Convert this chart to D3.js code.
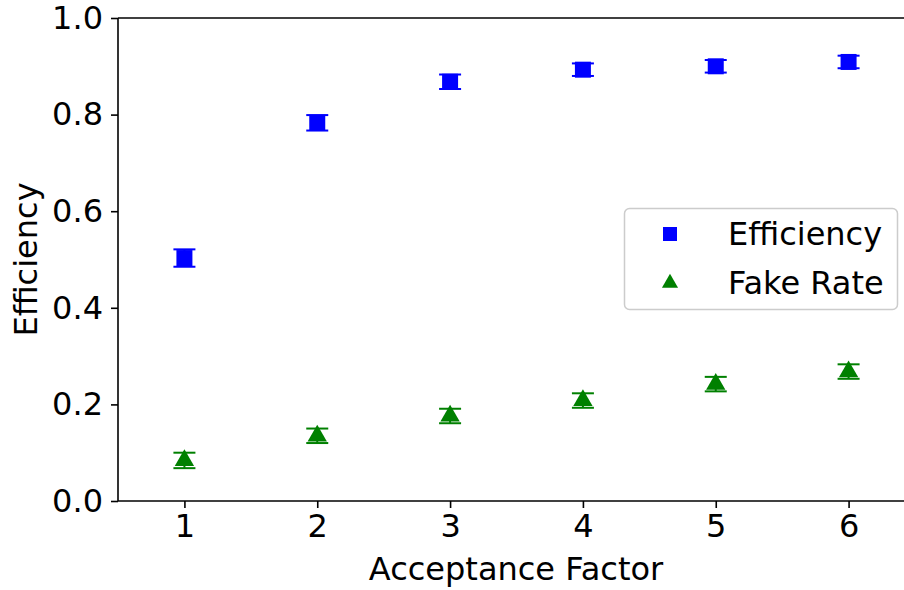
<!DOCTYPE html>
<html lang="en">
<head>
<meta charset="UTF-8">
<title>Efficiency vs Acceptance Factor</title>
<script src="https://d3js.org/d3.v7.min.js"></script>
<style>
  body { margin: 0; background: #fff; }
  svg { display: block; font-family: "DejaVu Sans", sans-serif; }
</style>
</head>
<body>
<svg id="chart" width="904" height="590"></svg>
<script>
// data
const factors = [1, 2, 3, 4, 5, 6];
const efficiency = [0.503, 0.783, 0.868, 0.893, 0.900, 0.909];
const efficiencyErr = [0.018, 0.016, 0.015, 0.013, 0.013, 0.013];
const fakeRate = [0.084, 0.135, 0.176, 0.208, 0.242, 0.268];
const fakeRateErr = [0.016, 0.015, 0.015, 0.015, 0.015, 0.015];
const yTicks = [0, 0.2, 0.4, 0.6, 0.8, 1.0];

const svg = d3.select('#chart');
const m = { left: 118, right: 915, top: 18, bottom: 501 };

const x = d3.scaleLinear().domain([0.5, 6.5]).range([m.left, m.right]);
const y = d3.scaleLinear().domain([0, 1]).range([m.bottom, m.top]);

const FONT = 32;

// axes
const xAxis = svg.append('g')
  .attr('transform', `translate(0,${m.bottom})`)
  .call(d3.axisBottom(x).tickValues(factors).tickFormat(d3.format('d')).tickSize(7).tickPadding(6));
const yAxis = svg.append('g')
  .attr('transform', `translate(${m.left},0)`)
  .call(d3.axisLeft(y).tickValues(yTicks).tickFormat(d3.format('.1f')).tickSize(7).tickPadding(8));

[xAxis, yAxis].forEach(a => {
  a.selectAll('.domain').remove();
  a.selectAll('.tick line').attr('stroke', '#000').attr('stroke-width', 1.6);
  a.selectAll('.tick text').attr('font-size', FONT).attr('fill', '#000')
    .attr('font-family', '"DejaVu Sans", sans-serif');
});

// spines
const spine = svg.append('g').attr('stroke', '#000').attr('stroke-width', 1.6).attr('fill', 'none');
spine.append('line').attr('x1', m.left).attr('x2', m.left).attr('y1', m.top).attr('y2', m.bottom);
spine.append('line').attr('x1', m.left).attr('x2', m.right).attr('y1', m.bottom).attr('y2', m.bottom);
spine.append('line').attr('x1', m.left).attr('x2', m.right).attr('y1', m.top).attr('y2', m.top);
spine.append('line').attr('x1', m.right).attr('x2', m.right).attr('y1', m.top).attr('y2', m.bottom);

// axis labels
svg.append('text')
  .attr('x', 516)
  .attr('y', 580)
  .attr('text-anchor', 'middle')
  .attr('font-size', FONT)
  .text('Acceptance Factor');
svg.append('text')
  .attr('transform', `translate(37,${(m.top + m.bottom) / 2}) rotate(-90)`)
  .attr('text-anchor', 'middle')
  .attr('font-size', FONT)
  .text('Efficiency');

const CAP = 11;
const sq = d3.symbol().type(d3.symbolSquare).size(16 * 16);
const tri = d3.symbol().type(d3.symbolTriangle).size(18 * 18 * 0.5);

function drawSeries(vals, errs, color, symbolGen) {
  const g = svg.append('g');
  const pts = factors.map((f, i) => ({ f, v: vals[i], e: errs[i] }));
  const eb = g.selectAll('g.eb').data(pts).join('g').attr('class', 'eb')
    .attr('stroke', color).attr('stroke-width', 2);
  eb.append('line')
    .attr('x1', d => x(d.f)).attr('x2', d => x(d.f))
    .attr('y1', d => y(d.v - d.e)).attr('y2', d => y(d.v + d.e));
  eb.append('line')
    .attr('x1', d => x(d.f) - CAP).attr('x2', d => x(d.f) + CAP)
    .attr('y1', d => y(d.v + d.e)).attr('y2', d => y(d.v + d.e));
  eb.append('line')
    .attr('x1', d => x(d.f) - CAP).attr('x2', d => x(d.f) + CAP)
    .attr('y1', d => y(d.v - d.e)).attr('y2', d => y(d.v - d.e));
  g.selectAll('path').data(pts).join('path')
    .attr('d', symbolGen)
    .attr('transform', d => `translate(${x(d.f)},${y(d.v)})`)
    .attr('fill', color);
}

drawSeries(efficiency, efficiencyErr, '#0000ff', sq);
drawSeries(fakeRate, fakeRateErr, '#008000', tri);

// legend
const legend = svg.append('g');
legend.append('rect')
  .attr('x', 624.5).attr('y', 208.5).attr('width', 273).attr('height', 101)
  .attr('rx', 5).attr('fill', '#fff').attr('fill-opacity', 0.8)
  .attr('stroke', '#cccccc').attr('stroke-width', 1.5);
const items = [
  { label: 'Efficiency', color: '#0000ff', sym: d3.symbol().type(d3.symbolSquare).size(14 * 14) },
  { label: 'Fake Rate', color: '#008000', sym: d3.symbol().type(d3.symbolTriangle).size(15 * 15 * 0.5) }
];
items.forEach((it, i) => {
  const cy = 234 + i * 49;
  legend.append('path').attr('d', it.sym()).attr('fill', it.color)
    .attr('transform', `translate(670,${cy})`);
  legend.append('text').attr('x', 728).attr('y', cy + 11)
    .attr('font-size', FONT).text(it.label);
});
</script>
</body>
</html>
